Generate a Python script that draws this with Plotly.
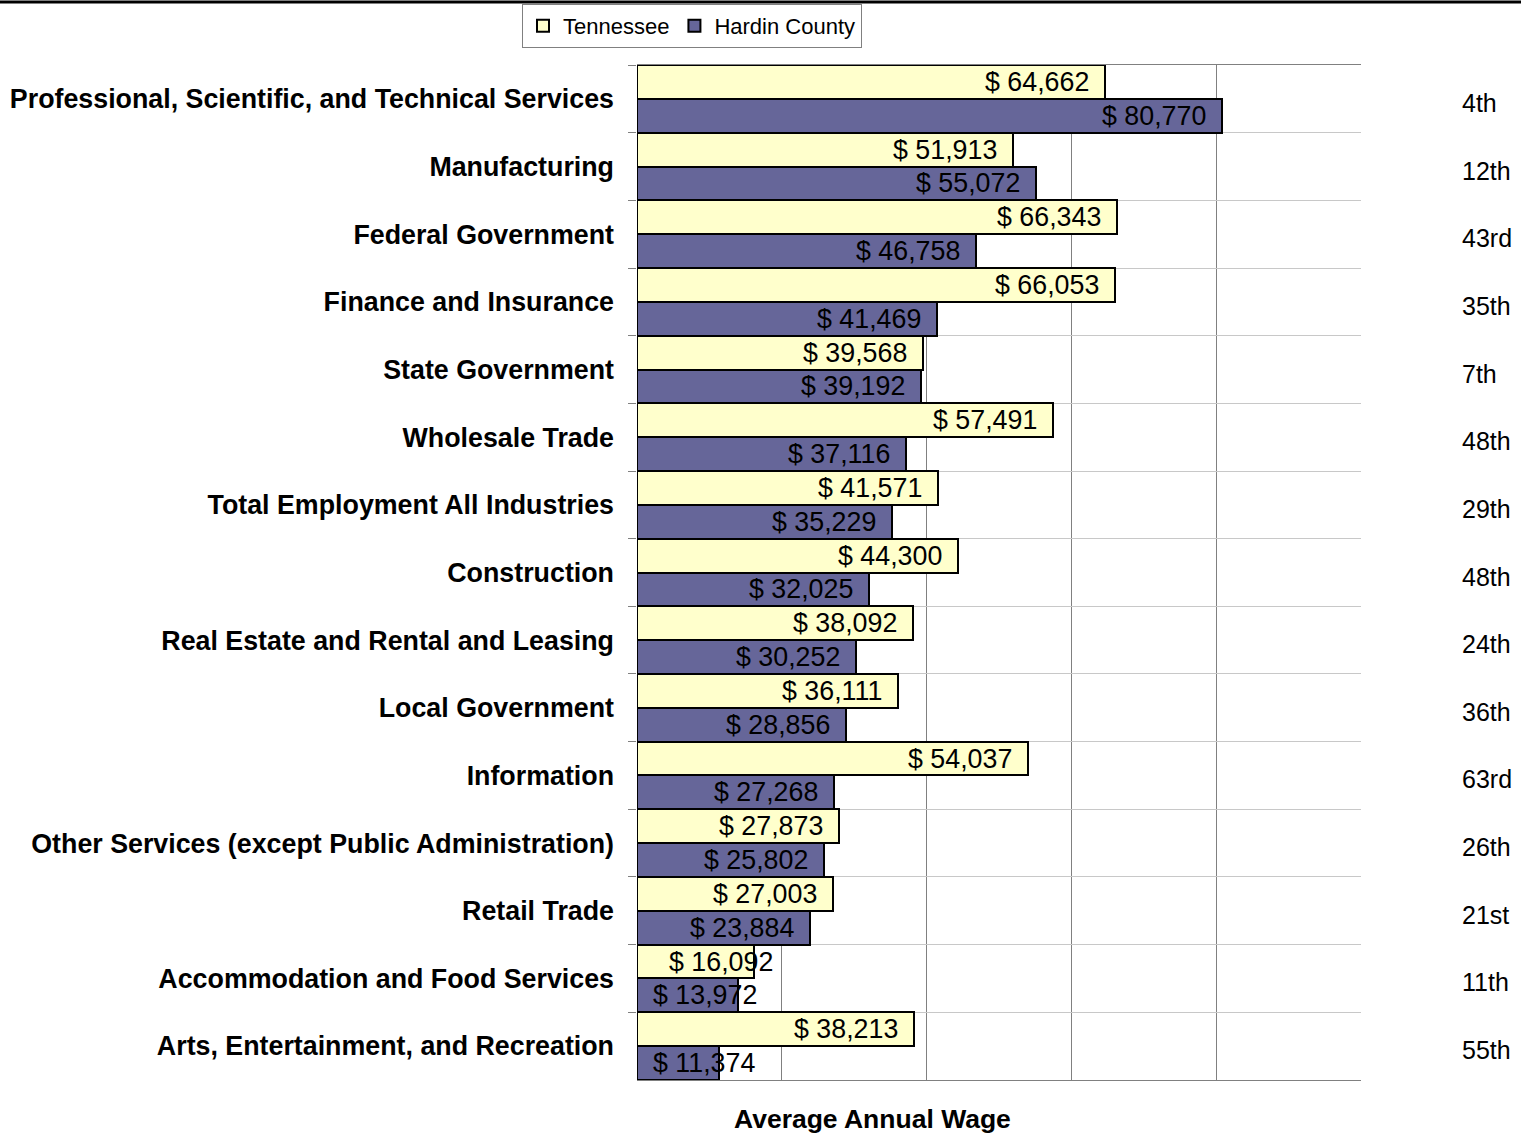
import plotly.graph_objects as go

categories = [
    "Professional, Scientific, and Technical Services",
    "Manufacturing",
    "Federal Government",
    "Finance and Insurance",
    "State Government",
    "Wholesale Trade",
    "Total Employment All Industries",
    "Construction",
    "Real Estate and Rental and Leasing",
    "Local Government",
    "Information",
    "Other Services (except Public Administration)",
    "Retail Trade",
    "Accommodation and Food Services",
    "Arts, Entertainment, and Recreation",
]
tennessee = [64662, 51913, 66343, 66053, 39568, 57491, 41571, 44300, 38092, 36111, 54037, 27873, 27003, 16092, 38213]
hardin = [80770, 55072, 46758, 41469, 39192, 37116, 35229, 32025, 30252, 28856, 27268, 25802, 23884, 13972, 11374]
ranks = ["4th", "12th", "43rd", "35th", "7th", "48th", "29th", "48th", "24th", "36th", "63rd", "26th", "21st", "11th", "55th"]

W, H = 1521, 1134
L, R, T, B = 637, 160, 65, 54
XMAX = 100000
PW = W - L - R
PH = H - T - B
px_per_unit = PW / XMAX
FONT = "Liberation Sans, Arial, sans-serif"

fig = go.Figure()
fig.add_trace(go.Bar(y=categories, x=tennessee, orientation="h", name="Tennessee",
                     marker=dict(color="#FFFFCC", line=dict(color="black", width=2))))
fig.add_trace(go.Bar(y=categories, x=hardin, orientation="h", name="Hardin County",
                     marker=dict(color="#666699", line=dict(color="black", width=2))))

annotations = []
text_w = 106  # approx pixel width of "$ 00,000"
for i, cat in enumerate(categories):
    for j, vals in enumerate([tennessee, hardin]):
        v = vals[i]
        ypos = i - 0.25 + 0.5 * j
        if v * px_per_unit >= text_w + 30:
            annotations.append(dict(x=v, y=ypos, xref="x", yref="y", text=f"$ {v:,}",
                                    showarrow=False, xanchor="right", xshift=-14,
                                    font=dict(family=FONT, size=26.8, color="black")))
        else:
            annotations.append(dict(x=0, y=ypos, xref="x", yref="y", text=f"$ {v:,}",
                                    showarrow=False, xanchor="left", xshift=14 + (16 if j == 0 else 0),
                                    font=dict(family=FONT, size=26.8, color="black")))
    annotations.append(dict(x=(1460 - L) / PW, y=i, xref="paper", yref="y",
                            text=ranks[i], showarrow=False, xanchor="left", yshift=-4,
                            font=dict(family=FONT, size=25, color="black")))

annotations.append(dict(x=(872 - L) / PW, y=-(1119 - (H - B)) / PH,
                        xref="paper", yref="paper", text="<b>Average Annual Wage</b>",
                        showarrow=False, xanchor="center", yanchor="middle",
                        font=dict(family=FONT, size=26.5, color="black")))

fig.update_layout(
    width=W, height=H,
    margin=dict(l=L, r=R, t=T, b=B, autoexpand=False),
    paper_bgcolor="white", plot_bgcolor="white",
    barmode="group", bargap=0, bargroupgap=0,
    font=dict(family=FONT, size=22, color="black"),
    showlegend=True,
    legend=dict(orientation="h", x=(692 - L) / PW, xanchor="center",
                y=(H - B - 4) / PH, yanchor="top",
                bordercolor="#808080", borderwidth=1, bgcolor="white",
                font=dict(family=FONT, size=22), itemwidth=30,
                traceorder="normal"),
    annotations=annotations,
    shapes=[dict(type="line", xref="paper", yref="paper", x0=-1, x1=1.3,
                 y0=(H - B - 2) / PH, y1=(H - B - 2) / PH,
                 line=dict(color="black", width=3))],
)
fig.update_xaxes(range=[0, XMAX], dtick=20000, showticklabels=False, showgrid=True,
                 gridcolor="#808080", gridwidth=1, zeroline=False,
                 showline=True, mirror=True, linecolor="#808080", linewidth=1, ticks="")
fig.update_yaxes(autorange="reversed", tickson="boundaries", showgrid=True,
                 gridcolor="#C8C8C8", gridwidth=1, ticks="outside", ticklen=8,
                 tickcolor="#808080", ticklabelstandoff=22,
                 tickfont=dict(family=FONT, size=26.8, color="black", weight="bold"),
                 showline=False, zeroline=False)

post = ("document.body.style.margin='0';"
        "var d=document.getElementById('{plot_id}');"
        "d.style.position='absolute';d.style.left='0px';d.style.top='0px';")
fig.write_html("out.html", config={"displayModeBar": False}, post_script=post)
